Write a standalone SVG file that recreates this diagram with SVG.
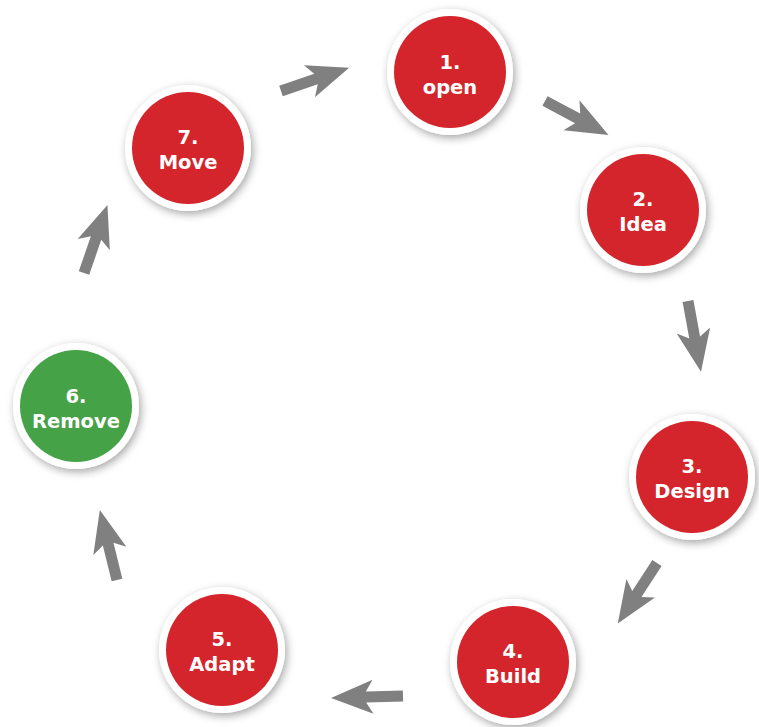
<svg xmlns="http://www.w3.org/2000/svg" width="759" height="727" viewBox="0 0 759 727">
<defs>
<filter id="sh" x="-30%" y="-30%" width="160%" height="160%">
<feDropShadow dx="2" dy="3" stdDeviation="4" flood-color="#000" flood-opacity="0.35"/>
</filter>
<path id="arr" d="M0,-5.5 L37,-5.5 L30,-17 L72,0 L30,17 L37,5.5 L0,5.5 Z"/>
</defs>
<style>
.ring{fill:#fff;filter:url(#sh)}
.red{fill:#d3252b}
.green{fill:#46a247}
text{font-family:"DejaVu Sans","Liberation Sans",sans-serif;font-weight:bold;font-size:19.5px;fill:#fff;text-anchor:middle}
.conn use{fill:#808080}
</style>
<rect width="759" height="727" fill="#fff"/>
<g class="conn" id="connectors">
<use href="#arr" transform="translate(281,91) rotate(-18.9)"/>
<use href="#arr" transform="translate(545,101) rotate(28.1)"/>
<use href="#arr" transform="translate(688,301) rotate(79.6)"/>
<use href="#arr" transform="translate(657,563) rotate(123)"/>
<use href="#arr" transform="translate(403,696) rotate(178.4)"/>
<use href="#arr" transform="translate(117,580) rotate(-103.8)"/>
<use href="#arr" transform="translate(84,273) rotate(-71)"/>
</g>
<g id="node1"><circle class="ring" cx="450" cy="72" r="63"/><circle class="red" cx="450" cy="72" r="56"/><text x="450" y="69">1.</text><text x="450" y="94">open</text></g>
<g id="node2"><circle class="ring" cx="643" cy="210" r="63"/><circle class="red" cx="643" cy="210" r="56"/><text x="643" y="206">2.</text><text x="643" y="231">Idea</text></g>
<g id="node3"><circle class="ring" cx="692" cy="477" r="63"/><circle class="red" cx="692" cy="477" r="56"/><text x="692" y="473">3.</text><text x="692" y="498">Design</text></g>
<g id="node4"><circle class="ring" cx="513" cy="662" r="63"/><circle class="red" cx="513" cy="662" r="56"/><text x="513" y="658">4.</text><text x="513" y="683">Build</text></g>
<g id="node5"><circle class="ring" cx="222" cy="650" r="63"/><circle class="red" cx="222" cy="650" r="56"/><text x="222" y="646">5.</text><text x="222" y="671">Adapt</text></g>
<g id="node6"><circle class="ring" cx="76" cy="406" r="63"/><circle class="green" cx="76" cy="406" r="56"/><text x="76" y="403">6.</text><text x="76" y="428">Remove</text></g>
<g id="node7"><circle class="ring" cx="188" cy="148" r="63"/><circle class="red" cx="188" cy="148" r="56"/><text x="188" y="144">7.</text><text x="188" y="169">Move</text></g>
</svg>
